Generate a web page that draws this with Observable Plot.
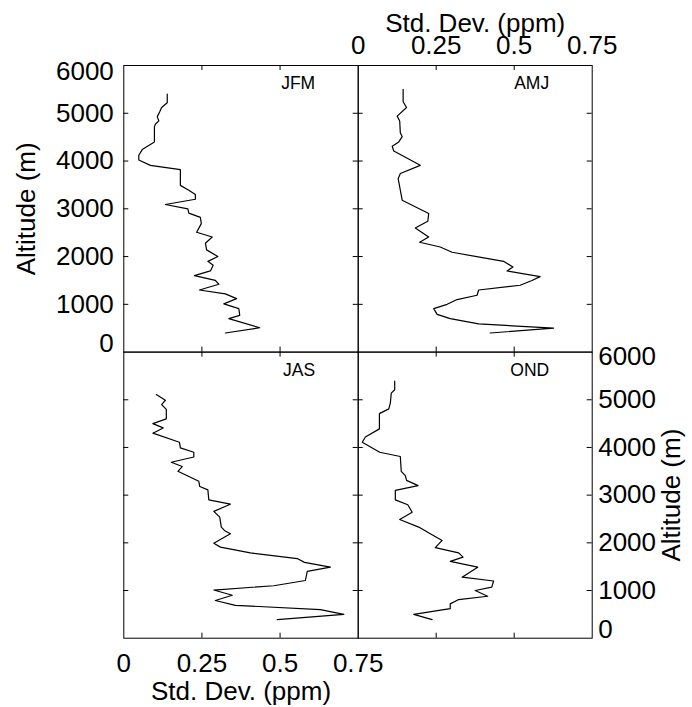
<!DOCTYPE html>
<html><head><meta charset="utf-8">
<script src="https://cdn.jsdelivr.net/npm/d3@7"></script>
<script src="https://cdn.jsdelivr.net/npm/@observablehq/plot@0.6"></script>
<style>
html,body{margin:0;padding:0;background:#fff;}
#chart{position:relative;width:692px;height:707px;overflow:hidden;background:#fff;}
#chart svg{position:absolute;left:0;top:0;background:transparent !important;}
</style></head><body><div id="chart"></div>
<script>
// ---- data ----
const seasonNames = ["JFM", "AMJ", "JAS", "OND"];

const jfmAlt = [5400,5220,5120,5030,4930,4840,4770,4720,4400,4240,4120,4020,3910,3820,3490,3390,3300,3200,3090,3000,2910,2820,2690,2510,2410,2280,2140,2000,1900,1820,1700,1600,1500,1420,1300,1220,1120,1010,910,770,700,510,400];
const jfmStd = [.139,.139,.121,.115,.107,.112,.101,.098,.098,.059,.048,.048,.085,.181,.181,.208,.229,.229,.133,.205,.208,.245,.248,.233,.283,.261,.265,.301,.269,.286,.277,.226,.293,.304,.242,.325,.361,.320,.368,.371,.336,.435,.325];

const amjAlt = [5500,5240,5120,4940,4840,4590,4510,4400,4310,4210,3910,3740,3630,3390,3180,2900,2740,2600,2410,2300,2200,2090,1900,1780,1700,1580,1500,1400,1300,1190,1100,1000,910,790,700,590,500,400];
const amjStd = [.144,.144,.155,.125,.133,.135,.141,.130,.109,.114,.199,.135,.128,.135,.141,.226,.223,.183,.226,.197,.263,.301,.466,.496,.477,.583,.557,.519,.386,.381,.317,.285,.242,.253,.295,.386,.626,.423];

const jasAlt = [5110,4990,4900,4800,4600,4500,4410,4300,4110,3990,3900,3800,3690,3600,3500,3290,3180,3110,2900,2810,2660,2540,2330,2260,2190,1990,1910,1790,1670,1590,1490,1400,1210,1100,1010,900,790,690,600,500,390];
const jasStd = [.104,.133,.121,.136,.136,.093,.126,.093,.178,.181,.224,.224,.152,.187,.173,.240,.243,.269,.272,.341,.288,.307,.312,.322,.341,.288,.309,.405,.555,.578,.661,.587,.581,.480,.288,.347,.293,.357,.629,.704,.491];

const ondAlt = [5390,5210,5140,4930,4810,4710,4390,4220,4110,3900,3810,3500,3410,3310,3200,3100,2900,2800,2640,2490,2330,2190,2050,1900,1790,1700,1610,1490,1280,1200,1070,1000,880,810,720,620,500,390];
const ondStd = [.117,.117,.106,.103,.098,.068,.068,.023,.013,.069,.135,.138,.151,.155,.192,.119,.119,.159,.173,.133,.194,.231,.269,.247,.322,.336,.295,.383,.333,.434,.428,.375,.415,.322,.295,.295,.178,.237];

const xTicks = [0, 0.25, 0.5, 0.75];
const xTickLabels = ["0", "0.25", "0.5", "0.75"];
const yTicks = [0, 1000, 2000, 3000, 4000, 5000, 6000];
const yTickLabels = ["0", "1000", "2000", "3000", "4000", "5000", "6000"];
const xTitle = "Std. Dev. (ppm)";
const yTitle = "Altitude (m)";

// ---- layout ----
const W = 692, H = 707;
const XL = 123.3, XM = 357.7, XR = 591.7;
const YT = 65, YM = 351.6, YB = 637.7;
const FONT = "'Liberation Sans', Arial, Helvetica, sans-serif";

const panels = [
  {name: seasonNames[0], alt: jfmAlt, std: jfmStd, col: 0, row: 0, left: true},
  {name: seasonNames[1], alt: amjAlt, std: amjStd, col: 1, row: 0, top: true},
  {name: seasonNames[2], alt: jasAlt, std: jasStd, col: 0, row: 1, bottom: true},
  {name: seasonNames[3], alt: ondAlt, std: ondStd, col: 1, row: 1, right: true}
];

function makePanel(p) {
  const left = p.col === 0 ? XL : XM, right = p.col === 0 ? XM : XR;
  const top = p.row === 0 ? YT : YM, bottom = p.row === 0 ? YM : YB;
  const pw = right - left, ph = bottom - top;
  const data = p.alt.map((a, i) => ({alt: a, std: p.std[i]}));
  const innerX = xTicks.slice(1, -1), innerY = yTicks.slice(1, -1);
  const ytl = (d) => yTickLabels[yTicks.indexOf(d)];
  const xtl = (d) => xTickLabels[xTicks.indexOf(d)];
  const tick = 5;
  const marks = [
    Plot.frame({stroke: "black", strokeWidth: 1}),
    Plot.ruleX(innerX, {x: d => d, insetTop: ph - tick, stroke: "black"}),
    Plot.ruleX(innerX, {x: d => d, insetBottom: ph - tick, stroke: "black"}),
    Plot.ruleY(innerY, {y: d => d, insetRight: pw - tick, stroke: "black"}),
    Plot.ruleY(innerY, {y: d => d, insetLeft: pw - tick, stroke: "black"}),
    Plot.line(data, {x: "std", y: "alt", stroke: "black", strokeWidth: 1.2}),
    Plot.text([p.name], {frameAnchor: "top-right", textAnchor: "end", lineAnchor: "bottom", dx: -43, dy: 23.7, fontSize: 17.5, fill: "black"})
  ];
  if (p.left) {
    marks.push(
      Plot.text(innerY, {y: d => d, text: ytl, frameAnchor: "left", textAnchor: "end", lineAnchor: "middle", dx: -10, fill: "black"}),
      Plot.text([0], {y: d => d, text: ytl, frameAnchor: "left", textAnchor: "end", lineAnchor: "middle", dx: -10, dy: -8, fill: "black"}),
      Plot.text([6000], {y: d => d, text: ytl, frameAnchor: "left", textAnchor: "end", lineAnchor: "middle", dx: -10, dy: 6, fill: "black"}),
      Plot.text([yTitle], {frameAnchor: "left", rotate: -90, textAnchor: "middle", lineAnchor: "middle", dx: -97, fill: "black"})
    );
  }
  if (p.right) {
    marks.push(
      Plot.text(innerY, {y: d => d, text: ytl, frameAnchor: "right", textAnchor: "start", lineAnchor: "middle", dx: 6, fill: "black"}),
      Plot.text([0], {y: d => d, text: ytl, frameAnchor: "right", textAnchor: "start", lineAnchor: "middle", dx: 6, dy: -9, fill: "black"}),
      Plot.text([6000], {y: d => d, text: ytl, frameAnchor: "right", textAnchor: "start", lineAnchor: "middle", dx: 6, dy: 5, fill: "black"}),
      Plot.text([yTitle], {frameAnchor: "right", rotate: -90, textAnchor: "middle", lineAnchor: "middle", dx: 79, fill: "black"})
    );
  }
  if (p.top) {
    marks.push(
      Plot.text(xTicks, {x: d => d, text: xtl, frameAnchor: "top", textAnchor: "middle", lineAnchor: "bottom", dy: -12, fill: "black"}),
      Plot.text([xTitle], {frameAnchor: "top", textAnchor: "middle", lineAnchor: "bottom", dy: -34, fill: "black"})
    );
  }
  if (p.bottom) {
    marks.push(
      Plot.text(xTicks, {x: d => d, text: xtl, frameAnchor: "bottom", textAnchor: "middle", lineAnchor: "bottom", dy: 34, fill: "black"}),
      Plot.text([xTitle], {frameAnchor: "bottom", textAnchor: "middle", lineAnchor: "bottom", dy: 62, fill: "black"})
    );
  }
  return Plot.plot({
    width: W, height: H,
    marginLeft: left, marginRight: W - right,
    marginTop: top, marginBottom: H - bottom,
    x: {domain: [0, 0.75], axis: null},
    y: {domain: [0, 6000], axis: null},
    style: {fontFamily: FONT, fontSize: "26px", background: "transparent", color: "black"},
    marks
  });
}

const chart = document.getElementById("chart");
for (const p of panels) chart.appendChild(makePanel(p));
</script>
</body></html>
